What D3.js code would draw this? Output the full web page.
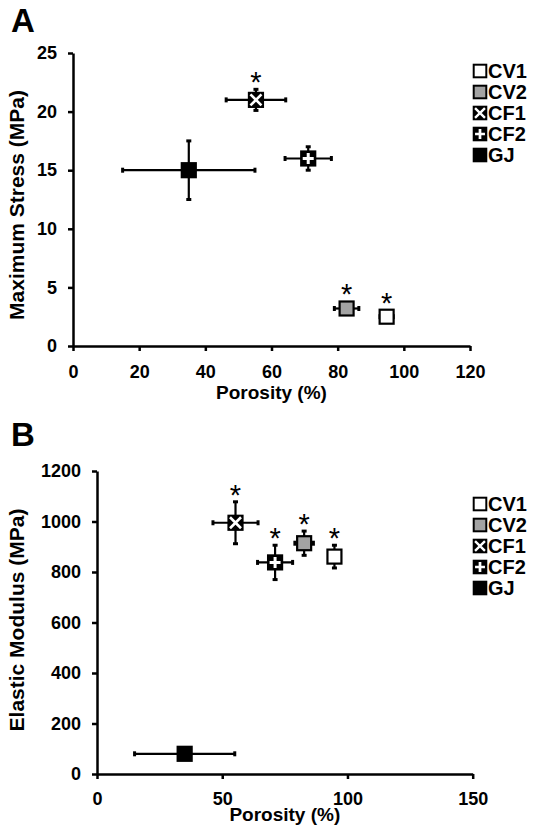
<!DOCTYPE html>
<html>
<head>
<meta charset="utf-8">
<script src="https://cdn.jsdelivr.net/npm/d3@7"></script>
<style>
  body { margin: 0; background: #fff; }
  svg { display: block; font-family: "Liberation Sans", Arial, sans-serif; }
  .axis path, .axis line { stroke: #000; stroke-width: 2.5; }
  .axis text { font-size: 18px; font-weight: bold; fill: #000; }
</style>
</head>
<body>
<div id="canvas"></div>
<script>
// data
const groups = ["CV1", "CV2", "CF1", "CF2", "GJ"];
const porosity = [94.8, 82.7, 55.3, 71.1, 35];
const porosityErr = [2, 3.7, 9, 7, 20];
const stress = [2.5, 3.2, 21, 16, 15];
const stressErr = [0.3, 0.4, 0.9, 1, 2.5];
const stressSig = [true, true, true, false, false];
const modulus = [861, 914, 995, 838, 80];
const modulusErr = [45, 48, 83, 68, 10];
const modulusSig = [true, true, true, true, false];

const stressTicks = [0, 5, 10, 15, 20, 25];
const porosityTicksA = [0, 20, 40, 60, 80, 100, 120];
const modulusTicks = [0, 200, 400, 600, 800, 1000, 1200];
const porosityTicksB = [0, 50, 100, 150];

const width = 533;
const height = 827;
const ms = 14; // marker size

const svg = d3.select("#canvas").append("svg")
  .attr("width", width)
  .attr("height", height);

function marker(g, name) {
  const h = ms / 2;
  const fill = { CV1: "#fff", CV2: "#a3a3a3", CF1: "#000", CF2: "#000", GJ: "#000" }[name];
  g.append("rect")
    .attr("x", -h).attr("y", -h)
    .attr("width", ms).attr("height", ms)
    .attr("fill", fill)
    .attr("stroke", "#000")
    .attr("stroke-width", 2.2);
  if (name === "CF1") {
    g.append("path")
      .attr("d", `M${-h + 1.5},${-h + 1.5}L${h - 1.5},${h - 1.5}M${h - 1.5},${-h + 1.5}L${-h + 1.5},${h - 1.5}`)
      .attr("stroke", "#fff").attr("stroke-width", 2.6);
  }
  if (name === "CF2") {
    g.append("path")
      .attr("d", `M0,${-h + 1.5}V${h - 1.5}M${-h + 1.5},0H${h - 1.5}`)
      .attr("stroke", "#fff").attr("stroke-width", 3);
  }
}

function panel(cfg) {
  const x = d3.scaleLinear().domain(cfg.xDomain).range(cfg.xRange);
  const y = d3.scaleLinear().domain(cfg.yDomain).range(cfg.yRange);
  const g = svg.append("g");

  g.append("g").attr("class", "axis")
    .attr("transform", `translate(0,${cfg.yRange[0]})`)
    .call(d3.axisBottom(x).tickValues(cfg.xTicks).tickFormat(d3.format("d"))
      .tickSize(5).tickSizeOuter(0).tickPadding(cfg.xPad));

  g.append("g").attr("class", "axis")
    .attr("transform", `translate(${cfg.xRange[0]},0)`)
    .call(d3.axisLeft(y).tickValues(cfg.yTicks).tickFormat(d3.format("d"))
      .tickSize(5).tickSizeOuter(0).tickPadding(11));

  // error bars
  const cap = 2.5;
  groups.forEach((name, i) => {
    const cx = x(porosity[i]), cy = y(cfg.yVals[i]);
    const x0 = x(porosity[i] - porosityErr[i]), x1 = x(porosity[i] + porosityErr[i]);
    const y0 = y(cfg.yVals[i] - cfg.yErr[i]), y1 = y(cfg.yVals[i] + cfg.yErr[i]);
    const eb = g.append("g").attr("stroke", "#000");
    eb.append("line").attr("x1", x0).attr("x2", x1).attr("y1", cy).attr("y2", cy).attr("stroke-width", 2.2);
    eb.append("line").attr("x1", cx).attr("x2", cx).attr("y1", y0).attr("y2", y1).attr("stroke-width", 2.2);
    [x0, x1].forEach(v => eb.append("line").attr("x1", v).attr("x2", v)
      .attr("y1", cy - cap).attr("y2", cy + cap).attr("stroke-width", 3));
    [y0, y1].forEach(v => eb.append("line").attr("y1", v).attr("y2", v)
      .attr("x1", cx - cap).attr("x2", cx + cap).attr("stroke-width", 3));
  });

  // markers and asterisks
  groups.forEach((name, i) => {
    const cx = x(porosity[i]), cy = y(cfg.yVals[i]);
    marker(g.append("g").attr("transform", `translate(${cx},${cy})`), name);
    if (cfg.sig[i]) {
      const top = Math.min(y(cfg.yVals[i] + cfg.yErr[i]), cy - ms / 2) - 12;
      g.append("text")
        .attr("x", cx).attr("y", top + 15)
        .attr("text-anchor", "middle")
        .attr("font-size", 29)
        .text("*");
    }
  });

  // axis titles
  g.append("text")
    .attr("x", (cfg.xRange[0] + cfg.xRange[1]) / 2)
    .attr("y", cfg.xTitleY)
    .attr("text-anchor", "middle")
    .attr("font-size", 19).attr("font-weight", "bold")
    .text("Porosity (%)");

  g.append("text")
    .attr("transform", `translate(${cfg.yTitleX},${cfg.yTitleY}) rotate(-90)`)
    .attr("text-anchor", "middle")
    .attr("font-size", 21).attr("font-weight", "bold")
    .text(cfg.yTitle);

  // panel letter
  g.append("text")
    .attr("x", 11).attr("y", cfg.letterY)
    .attr("font-size", 33).attr("font-weight", "bold")
    .text(cfg.letter);

  // legend
  const lg = g.append("g").attr("transform", `translate(480,${cfg.legendY})`);
  groups.forEach((name, i) => {
    const row = lg.append("g").attr("transform", `translate(0,${i * cfg.legendStep})`);
    const m = row.append("g").attr("transform", "scale(0.9)");
    marker(m, name);
    row.append("text")
      .attr("x", 8).attr("y", 7)
      .attr("font-size", 20).attr("font-weight", "bold")
      .text(name);
  });
}

panel({
  letter: "A", letterY: 32,
  xDomain: [0, 120], xRange: [73, 470], xTicks: porosityTicksA, xPad: 14,
  yDomain: [0, 25], yRange: [346, 53], yTicks: stressTicks,
  yVals: stress, yErr: stressErr, sig: stressSig,
  yTitle: "Maximum Stress (MPa)", yTitleX: 24, yTitleY: 205,
  xTitleY: 399,
  legendY: 71, legendStep: 21
});

panel({
  letter: "B", letterY: 446,
  xDomain: [0, 150], xRange: [97, 472.7], xTicks: porosityTicksB, xPad: 13,
  yDomain: [0, 1200], yRange: [774, 471], yTicks: modulusTicks,
  yVals: modulus, yErr: modulusErr, sig: modulusSig,
  yTitle: "Elastic Modulus (MPa)", yTitleX: 24, yTitleY: 620,
  xTitleY: 821,
  legendY: 504, legendStep: 21
});
</script>
</body>
</html>
